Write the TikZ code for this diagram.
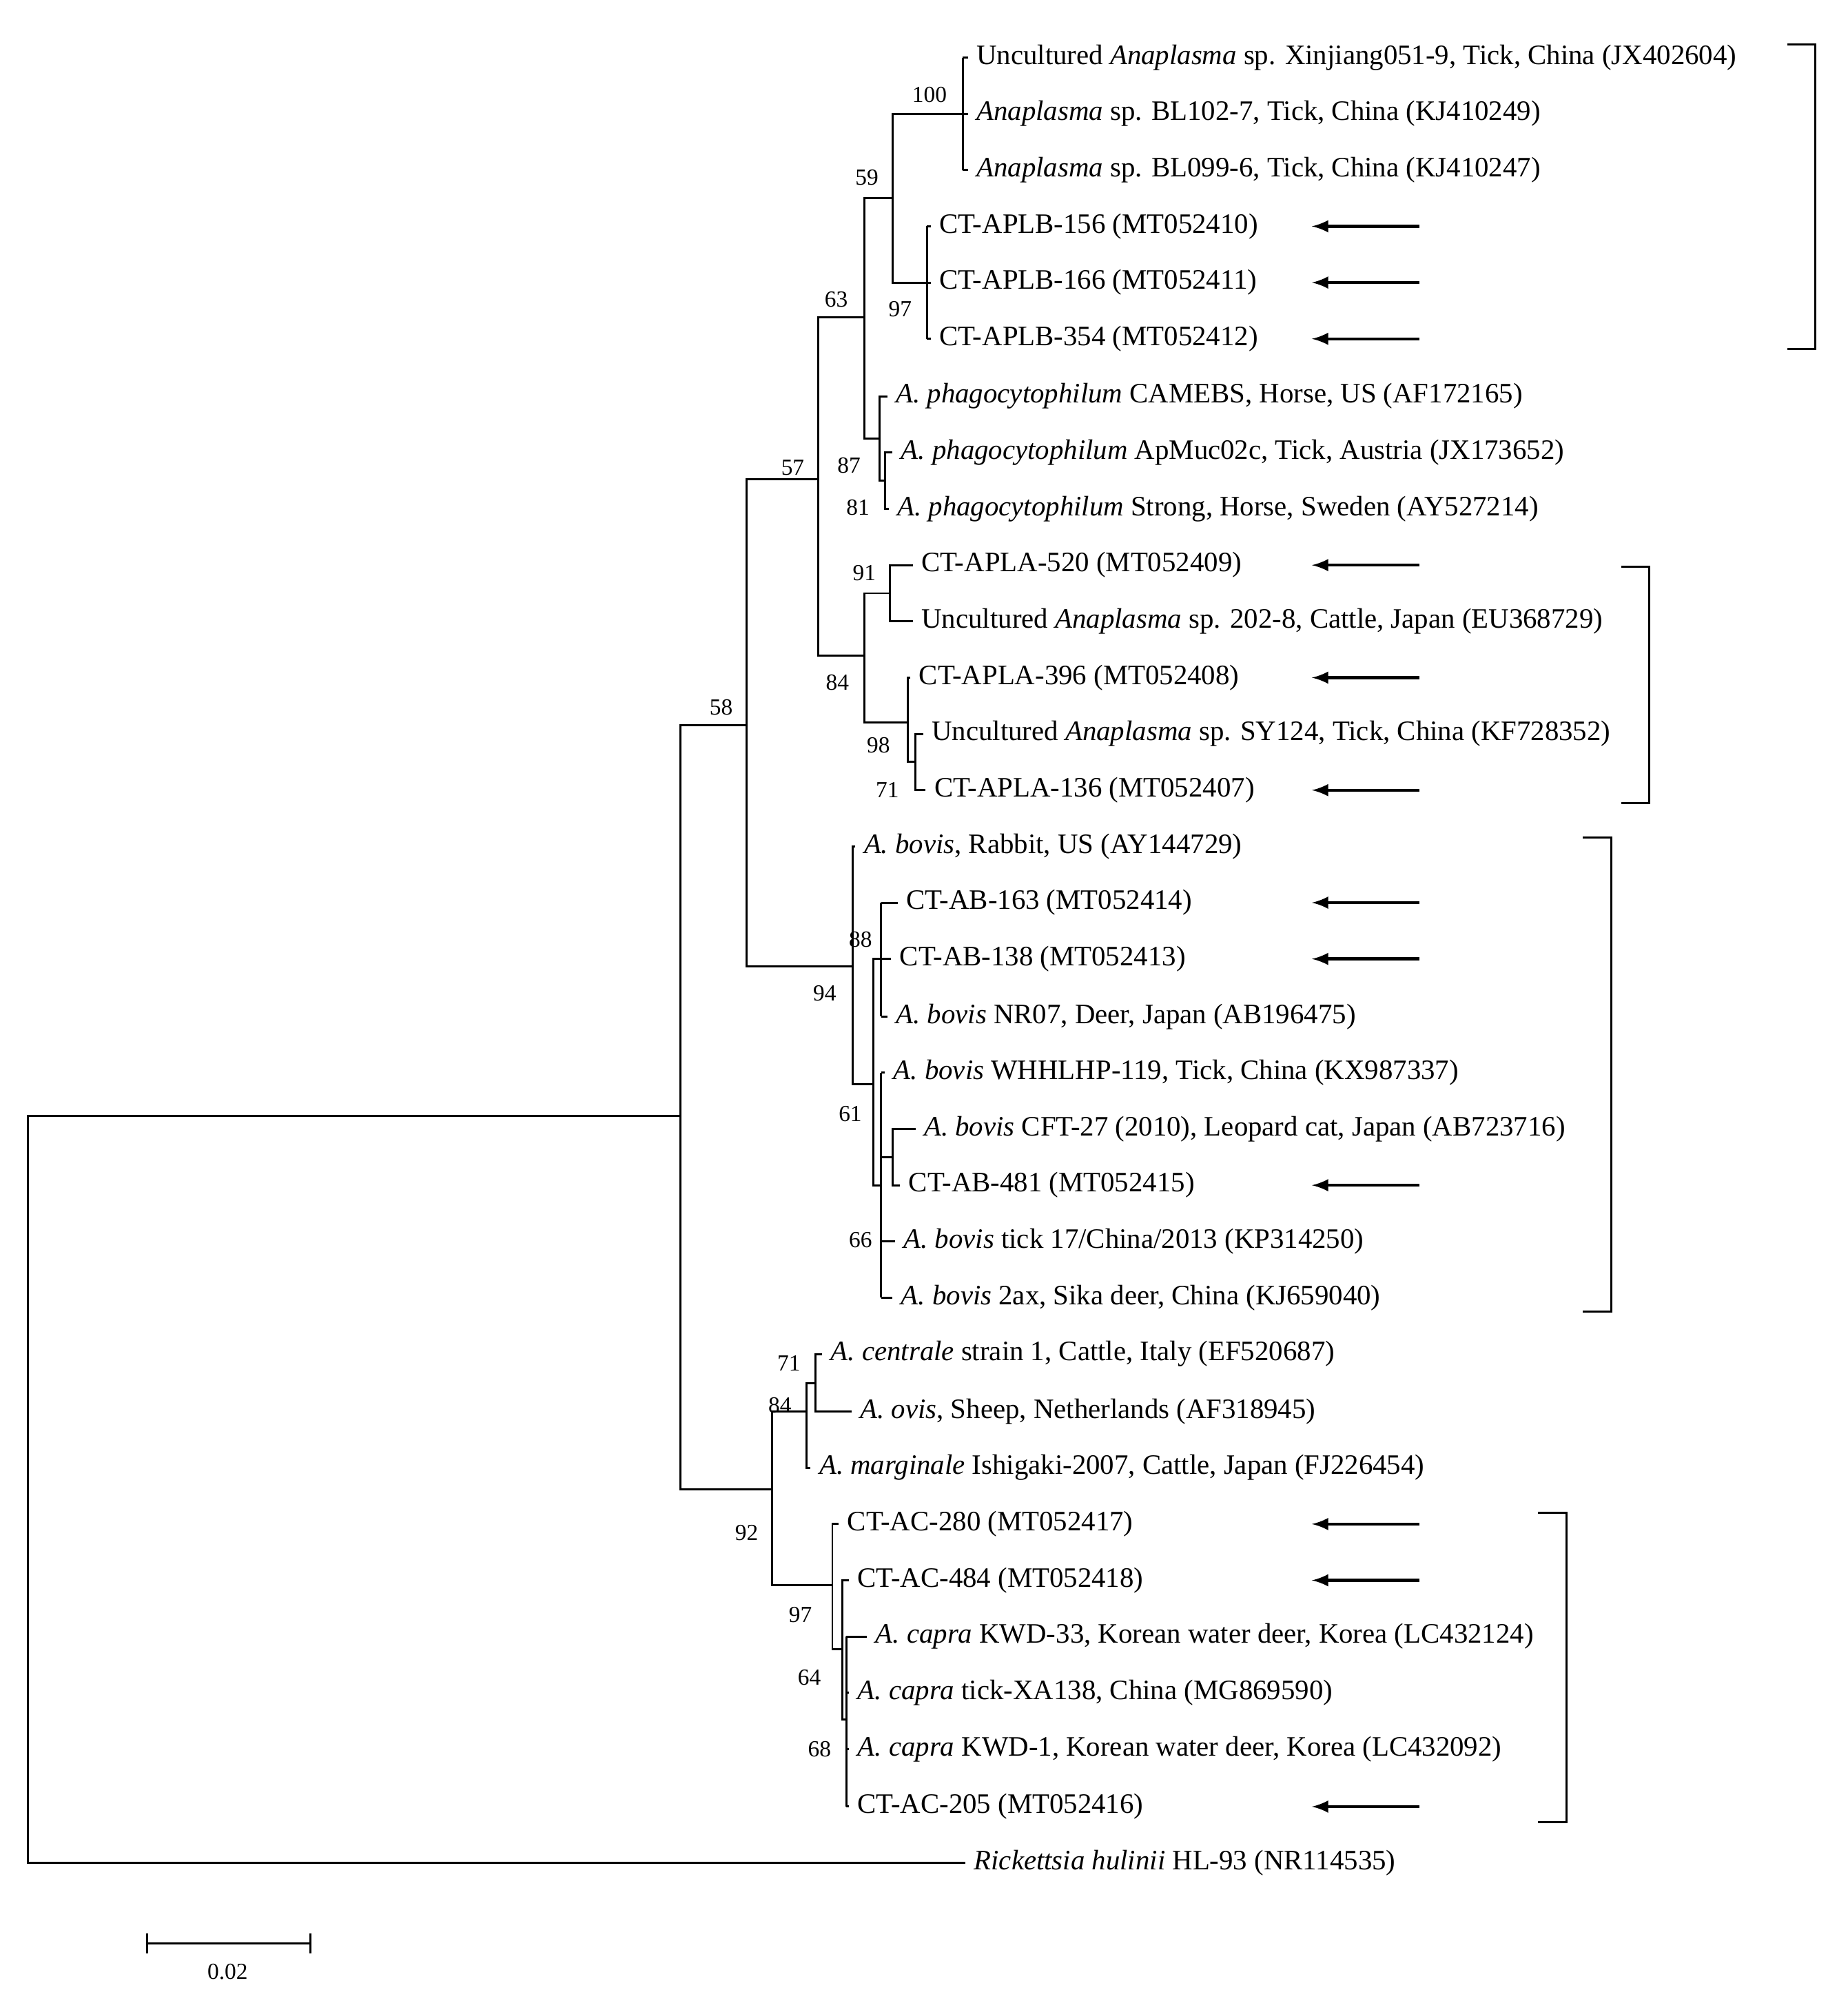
\documentclass[tikz,border=0pt]{standalone}
\usepackage{fontspec}
\setmainfont{Liberation Serif}
\begin{document}
\begin{tikzpicture}[x=0.5pt,y=-0.5pt,line width=0.8pt,
 leaf/.style={anchor=west,inner sep=0pt,xshift=3pt,font=\fontsize{11}{12}\selectfont},
 bs/.style={inner sep=0pt,font=\fontsize{9}{10}\selectfont},
 arr/.style={-latex,line width=1.2pt}]
\useasboundingbox (0,0) rectangle (1445,1558);
% root
\draw (532,873) -- (22,873) -- (22,1457) -- (755,1457);
\node[leaf] at (755,1457) {\textit{Rickettsia hulinii} HL-93 (NR114535)};
% node 58
\draw (584,567) -- (532,567) -- (532,1165) -- (604,1165);
% node 57
\draw (640,375) -- (584,375) -- (584,756) -- (667,756);
% node 63
\draw (676,248) -- (640,248) -- (640,513) -- (676,513);
% node 59 (x=676)
\draw (698,155) -- (676,155) -- (676,343) -- (688,343);
% x=698
\draw (753,89) -- (698,89) -- (698,221) -- (725,221);
\draw (753,45) -- (753,133);
\draw (753,45) -- (757,45); \draw (753,89) -- (757,89); \draw (753,133) -- (757,133);
\node[leaf] at (757,45) {Uncultured \textit{Anaplasma} sp. Xinjiang051-9, Tick, China (JX402604)};
\node[leaf] at (757,89) {\textit{Anaplasma} sp. BL102-7, Tick, China (KJ410249)};
\node[leaf] at (757,133) {\textit{Anaplasma} sp. BL099-6, Tick, China (KJ410247)};
\draw (725,177) -- (725,265);
\draw (725,177) -- (728,177); \draw (725,221) -- (728,221); \draw (725,265) -- (728,265);
\node[leaf] at (728,177) {CT-APLB-156 (MT052410)};
\node[leaf] at (728,221) {CT-APLB-166 (MT052411)};
\node[leaf] at (728,265) {CT-APLB-354 (MT052412)};
% phago
\draw (694,310) -- (688,310) -- (688,376) -- (692,376);
\draw (698,354) -- (692,354) -- (692,398) -- (695,398);
\node[leaf] at (694,310) {\textit{A. phagocytophilum} CAMEBS, Horse, US (AF172165)};
\node[leaf] at (698,354) {\textit{A. phagocytophilum} ApMuc02c, Tick, Austria (JX173652)};
\node[leaf] at (695,398) {\textit{A. phagocytophilum} Strong, Horse, Sweden (AY527214)};
% node 84 top
\draw (696,464) -- (676,464) -- (676,565) -- (710,565);
\draw (714,442) -- (696,442) -- (696,486) -- (714,486);
\node[leaf] at (714,442) {CT-APLA-520 (MT052409)};
\node[leaf] at (714,486) {Uncultured \textit{Anaplasma} sp. 202-8, Cattle, Japan (EU368729)};
\draw (712,530) -- (710,530) -- (710,596) -- (716,596);
\draw (722,574) -- (716,574) -- (716,618) -- (724,618);
\node[leaf] at (712,530) {CT-APLA-396 (MT052408)};
\node[leaf] at (722,574) {Uncultured \textit{Anaplasma} sp. SY124, Tick, China (KF728352)};
\node[leaf] at (724,618) {CT-APLA-136 (MT052407)};
% bovis
\draw (669,662) -- (667,662) -- (667,848) -- (683,848);
\node[leaf] at (669,662) {\textit{A. bovis}, Rabbit, US (AY144729)};
\draw (689,750) -- (683,750) -- (683,927) -- (689,927);
\draw (689,706) -- (689,795);
\draw (689,706) -- (702,706); \draw (689,750) -- (697,750); \draw (689,795) -- (694,795);
\node[leaf] at (702,706) {CT-AB-163 (MT052414)};
\node[leaf] at (697,750) {CT-AB-138 (MT052413)};
\node[leaf] at (694,795) {\textit{A. bovis} NR07, Deer, Japan (AB196475)};
\draw (689,839) -- (689,1015);
\draw (689,839) -- (692,839); \draw (689,905) -- (698,905); \draw (689,971) -- (700,971); \draw (689,1015) -- (698,1015);
\node[leaf] at (692,839) {\textit{A. bovis} WHHLHP-119, Tick, China (KX987337)};
\node[leaf] at (700,971) {\textit{A. bovis} tick 17/China/2013 (KP314250)};
\node[leaf] at (698,1015) {\textit{A. bovis} 2ax, Sika deer, China (KJ659040)};
\draw (716,883) -- (698,883) -- (698,927) -- (704,927);
\node[leaf] at (716,883) {\textit{A. bovis} CFT-27 (2010), Leopard cat, Japan (AB723716)};
\node[leaf] at (704,927) {CT-AB-481 (MT052415)};
% node 92
\draw (631,1104) -- (604,1104) -- (604,1240) -- (651,1240);
\draw (638,1082) -- (631,1082) -- (631,1148) -- (634,1148);
\node[leaf] at (634,1148) {\textit{A. marginale} Ishigaki-2007, Cattle, Japan (FJ226454)};
\draw (643,1059) -- (638,1059) -- (638,1104) -- (666,1104);
\node[leaf] at (643,1059) {\textit{A. centrale} strain 1, Cattle, Italy (EF520687)};
\node[leaf] at (666,1104) {\textit{A. ovis}, Sheep, Netherlands (AF318945)};
\draw (656,1192) -- (651,1192) -- (651,1290) -- (659,1290);
\node[leaf] at (656,1192) {CT-AC-280 (MT052417)};
\draw (664,1236) -- (659,1236) -- (659,1345) -- (662,1345);
\node[leaf] at (664,1236) {CT-AC-484 (MT052418)};
\draw (662,1280) -- (662,1413);
\draw (662,1280) -- (678,1280); \draw (662,1324) -- (664,1324); \draw (662,1368) -- (664,1368); \draw (662,1413) -- (664,1413);
\node[leaf] at (678,1280) {\textit{A. capra} KWD-33, Korean water deer, Korea (LC432124)};
\node[leaf] at (664,1324) {\textit{A. capra} tick-XA138, China (MG869590)};
\node[leaf] at (664,1368) {\textit{A. capra} KWD-1, Korean water deer, Korea (LC432092)};
\node[leaf] at (664,1413) {CT-AC-205 (MT052416)};
% bootstrap
\foreach \t/\x/\y in {100/727/74,59/678/139,97/704/242,63/654/234,87/664/364,81/671/397,57/620/366,91/676/448,84/655/534,98/687/583,71/694/618,58/564/553,88/673/735,94/645/777,61/665/871,66/673/970,71/617/1066,84/610/1099,92/584/1199,97/626/1263,64/633/1312,68/641/1368}
  \node[bs] at (\x,\y) {\t};
% arrows
\foreach \y in {177,221,265,442,530,618,706,750,927,1192,1236,1413}
  \draw[arr] (1110,\y) -- (1026,\y);
% brackets
\draw (1398,35) -- (1420,35) -- (1420,273) -- (1398,273);
\draw (1268,443) -- (1290,443) -- (1290,628) -- (1268,628);
\draw (1238,655) -- (1260,655) -- (1260,1026) -- (1238,1026);
\draw (1203,1183) -- (1225,1183) -- (1225,1425) -- (1203,1425);
% scale
\draw (115,1520) -- (243,1520);
\draw (115,1512) -- (115,1528); \draw (243,1512) -- (243,1528);
\node[bs] at (178,1542) {0.02};
\end{tikzpicture}
\end{document}
